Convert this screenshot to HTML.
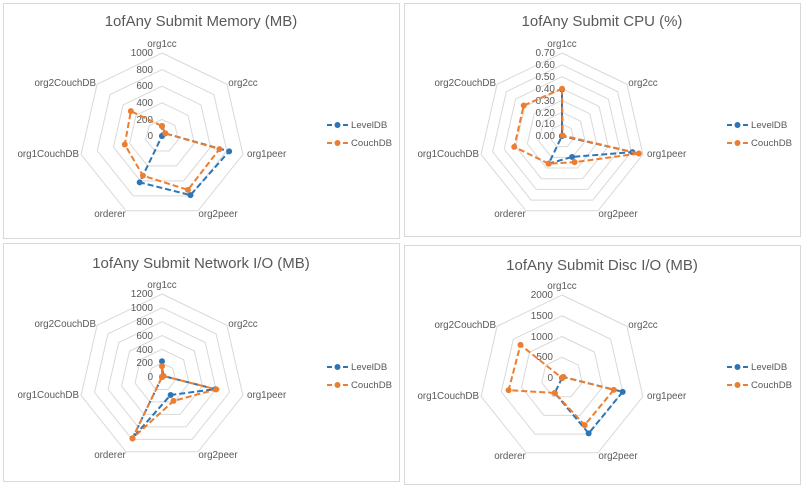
<!DOCTYPE html>
<html><head><meta charset="utf-8"><style>
html,body{margin:0;padding:0;background:#fff;}
svg{display:block;font-family:"Liberation Sans",sans-serif;}
.t{font-size:15px;fill:#595959;text-anchor:middle;}
.a{font-size:9.8px;fill:#595959;}
.k{font-size:10px;fill:#595959;text-anchor:end;}
.l{font-size:9.6px;fill:#595959;}
</style></head><body>
<svg id="s" width="804" height="488" viewBox="0 0 804 488" xmlns="http://www.w3.org/2000/svg">
<rect x="3.5" y="3.5" width="396" height="235" fill="#fff" stroke="#d9d9d9"/>
<rect x="404.5" y="3.5" width="396" height="233" fill="#fff" stroke="#d9d9d9"/>
<rect x="3.5" y="243.5" width="396" height="238" fill="#fff" stroke="#d9d9d9"/>
<rect x="404.5" y="245.5" width="396" height="239" fill="#fff" stroke="#d9d9d9"/>
<text class="t" x="201" y="26">1ofAny Submit Memory (MB)</text>
<text class="t" x="602" y="26">1ofAny Submit CPU (%)</text>
<text class="t" x="201" y="268">1ofAny Submit Network I/O (MB)</text>
<text class="t" x="602" y="270">1ofAny Submit Disc I/O (MB)</text>

<g id="c1" transform="translate(162,136)">
<text class="a" x="0" y="-89" text-anchor="middle">org1cc</text>
<text class="a" x="81" y="-50" text-anchor="middle">org2cc</text>
<text class="a" x="85" y="21">org1peer</text>
<text class="a" x="56" y="81" text-anchor="middle">org2peer</text>
<text class="a" x="-52" y="81" text-anchor="middle">orderer</text>
<text class="a" x="-83" y="21" text-anchor="end">org1CouchDB</text>
<text class="a" x="-66" y="-50" text-anchor="end">org2CouchDB</text>
<text class="k" x="-9" y="-80">1000</text><text class="k" x="-9" y="-63">800</text><text class="k" x="-9" y="-47">600</text><text class="k" x="-9" y="-30">400</text><text class="k" x="-9" y="-13">200</text><text class="k" x="-9" y="3">0</text>
</g>
<g id="c2" transform="translate(562,136)">
<text class="a" x="0" y="-89" text-anchor="middle">org1cc</text>
<text class="a" x="81" y="-50" text-anchor="middle">org2cc</text>
<text class="a" x="85" y="21">org1peer</text>
<text class="a" x="56" y="81" text-anchor="middle">org2peer</text>
<text class="a" x="-52" y="81" text-anchor="middle">orderer</text>
<text class="a" x="-83" y="21" text-anchor="end">org1CouchDB</text>
<text class="a" x="-66" y="-50" text-anchor="end">org2CouchDB</text>
<text class="k" x="-7" y="-80">0.70</text><text class="k" x="-7" y="-68">0.60</text><text class="k" x="-7" y="-56">0.50</text><text class="k" x="-7" y="-44">0.40</text><text class="k" x="-7" y="-32">0.30</text><text class="k" x="-7" y="-20">0.20</text><text class="k" x="-7" y="-9">0.10</text><text class="k" x="-7" y="3">0.00</text>
</g>
<g id="c3" transform="translate(162,377)">
<text class="a" x="0" y="-89" text-anchor="middle">org1cc</text>
<text class="a" x="81" y="-50" text-anchor="middle">org2cc</text>
<text class="a" x="85" y="21">org1peer</text>
<text class="a" x="56" y="81" text-anchor="middle">org2peer</text>
<text class="a" x="-52" y="81" text-anchor="middle">orderer</text>
<text class="a" x="-83" y="21" text-anchor="end">org1CouchDB</text>
<text class="a" x="-66" y="-50" text-anchor="end">org2CouchDB</text>
<text class="k" x="-9" y="-80">1200</text><text class="k" x="-9" y="-66">1000</text><text class="k" x="-9" y="-52">800</text><text class="k" x="-9" y="-38">600</text><text class="k" x="-9" y="-24">400</text><text class="k" x="-9" y="-11">200</text><text class="k" x="-9" y="3">0</text>
</g>
<g id="c4" transform="translate(562,378)">
<text class="a" x="0" y="-89" text-anchor="middle">org1cc</text>
<text class="a" x="81" y="-50" text-anchor="middle">org2cc</text>
<text class="a" x="85" y="21">org1peer</text>
<text class="a" x="56" y="81" text-anchor="middle">org2peer</text>
<text class="a" x="-52" y="81" text-anchor="middle">orderer</text>
<text class="a" x="-83" y="21" text-anchor="end">org1CouchDB</text>
<text class="a" x="-66" y="-50" text-anchor="end">org2CouchDB</text>
<text class="k" x="-9" y="-80">2000</text><text class="k" x="-9" y="-59">1500</text><text class="k" x="-9" y="-38">1000</text><text class="k" x="-9" y="-18">500</text><text class="k" x="-9" y="3">0</text>
</g>

<g id="lg">
<g transform="translate(0,0)"><text class="l" x="351" y="128">LevelDB</text><text class="l" x="351" y="146">CouchDB</text></g>
<g transform="translate(400,0)"><text class="l" x="351" y="128">LevelDB</text><text class="l" x="351" y="146">CouchDB</text></g>
<g transform="translate(0,242)"><text class="l" x="351" y="128">LevelDB</text><text class="l" x="351" y="146">CouchDB</text></g>
<g transform="translate(400,242)"><text class="l" x="351" y="128">LevelDB</text><text class="l" x="351" y="146">CouchDB</text></g>
</g>
</svg>
<script>
var NS="http://www.w3.org/2000/svg",R=83;
var B="#2e75b6",O="#ed7d31";
function pt(k,r){var a=k*2*Math.PI/7;return [r*Math.sin(a),-r*Math.cos(a)];}
var charts=[
 ["c1",5,[0.12,0.05,0.83,0.79,0.62,0,0],[0.12,0.05,0.71,0.72,0.53,0.46,0.48]],
 ["c2",7,[0.56,0.0,0.87,0.28,0.37,0,0],[0.57,0.01,0.95,0.35,0.37,0.59,0.59]],
 ["c3",6,[0.19,0.02,0.66,0.24,0.82,0,0],[0.13,0.02,0.67,0.32,0.82,0,0]],
 ["c4",4,[0.0,0.02,0.75,0.74,0.2,0,0],[0.0,0.02,0.64,0.63,0.2,0.66,0.64]]];
charts.forEach(function(c){
 var g=document.getElementById(c[0]);
 var grid=document.createElementNS(NS,"g");g.insertBefore(grid,g.firstChild);
 for(var i=1;i<=c[1];i++){var r=R*i/c[1],s=[];for(var k=0;k<7;k++)s.push(pt(k,r).join(","));
  var p=document.createElementNS(NS,"polygon");p.setAttribute("points",s.join(" "));p.setAttribute("fill","none");p.setAttribute("stroke","#d9d9d9");p.setAttribute("stroke-width","1");grid.appendChild(p);}
 [[c[2],B],[c[3],O]].forEach(function(d){
  var s=[];for(var k=0;k<7;k++)s.push(pt(k,d[0][k]*R));
  var p=document.createElementNS(NS,"polygon");p.setAttribute("points",s.map(function(q){return q.join(",")}).join(" "));
  p.setAttribute("fill","none");p.setAttribute("stroke",d[1]);p.setAttribute("stroke-width","2");p.setAttribute("stroke-dasharray","6,3");g.appendChild(p);
  s.forEach(function(q){var m=document.createElementNS(NS,"circle");m.setAttribute("cx",q[0]);m.setAttribute("cy",q[1]);m.setAttribute("r","3");m.setAttribute("fill",d[1]);g.appendChild(m);});
 });
});
var lg=document.getElementById("lg");
[[0,0],[400,0],[0,242],[400,242]].forEach(function(o){
 [[125,B],[143,O]].forEach(function(d){
  var l=document.createElementNS(NS,"line");l.setAttribute("x1",o[0]+327);l.setAttribute("x2",o[0]+348);l.setAttribute("y1",o[1]+d[0]);l.setAttribute("y2",o[1]+d[0]);
  l.setAttribute("stroke",d[1]);l.setAttribute("stroke-width","2");l.setAttribute("stroke-dasharray","5,3");lg.appendChild(l);
  var m=document.createElementNS(NS,"circle");m.setAttribute("cx",o[0]+337.5);m.setAttribute("cy",o[1]+d[0]);m.setAttribute("r","3");m.setAttribute("fill",d[1]);lg.appendChild(m);
 });
});
</script>
</body></html>
